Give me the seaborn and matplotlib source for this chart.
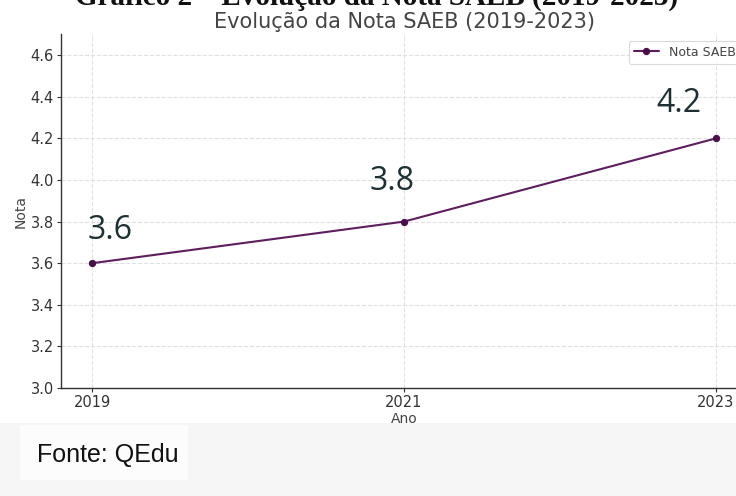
import matplotlib
matplotlib.use("Agg")
import matplotlib.pyplot as plt
import matplotlib.patches as mpatches
import seaborn as sns
import pandas as pd

anos = [2019, 2021, 2023]
notas = [3.6, 3.8, 4.2]
rotulos = ["3.6", "3.8", "4.2"]
yticks = [3.0, 3.2, 3.4, 3.6, 3.8, 4.0, 4.2, 4.4, 4.6]

df = pd.DataFrame({"Ano": anos, "Nota": notas})

sns.set_theme(style="whitegrid")
plt.rcParams["font.family"] = ["DejaVu Sans"]

W, H = 736, 496
fig = plt.figure(figsize=(W / 100, H / 100), dpi=100)
fig.patch.set_facecolor("white")

# bottom grey band + white box behind the source text
fig.patches.append(mpatches.Rectangle((0, 0), 1, 73 / H, transform=fig.transFigure,
                                      facecolor="#f6f6f6", edgecolor="none", zorder=0))
fig.patches.append(mpatches.Rectangle((20 / W, 16 / H), 168 / W, 55 / H, transform=fig.transFigure,
                                      facecolor="#fcfcfc", edgecolor="none", zorder=0))

left, right_px, top_px, bottom_px = 61, 747, 34.4, 388
ax = fig.add_axes([left / W, 1 - bottom_px / H, (right_px - left) / W, (bottom_px - top_px) / H])

line_color = "#5e1d5e"
sns.lineplot(data=df, x="Ano", y="Nota", ax=ax, color=line_color, marker="o",
             markersize=4.5, linewidth=1.5, markeredgecolor="#4a0f4a",
             markerfacecolor="#4a0f4a", label="Nota SAEB")

ax.set_xlim(2018.8, 2023.2)
ax.set_ylim(3.0, 4.7)
ax.set_xticks(anos)
ax.set_xticklabels([str(a) for a in anos])
ax.set_yticks(yticks)
ax.set_yticklabels([f"{v:.1f}" for v in yticks])
ax.tick_params(axis="both", labelsize=10.5, colors="#333333", length=3, width=0.8,
               direction="out", bottom=True, left=True, pad=2)
ax.grid(True, color="#e0e0e0", linestyle="--", linewidth=0.8)
ax.set_facecolor("white")
for s in ["top", "right"]:
    ax.spines[s].set_visible(False)
for s in ["left", "bottom"]:
    ax.spines[s].set_color("#333333")
    ax.spines[s].set_linewidth(1.0)
ax.set_xlabel("Ano", fontsize=10, color="#444444", labelpad=1.5)
ax.set_ylabel("Nota", fontsize=10, color="#444444", labelpad=2)

offsets = [(18, 16), (-12, 24), (-37, 18)]
for x, y, t, (dx, dy) in zip(anos, notas, rotulos, offsets):
    ax.annotate(t, xy=(x, y), xytext=(dx, dy), textcoords="offset pixels",
                ha="center", va="bottom", fontsize=23, fontweight="medium",
                color="#1d3034", family=["Open Sans", "DejaVu Sans"])

leg = ax.legend(loc="upper right", fontsize=9, frameon=True, handlelength=2,
                borderpad=0.4)
leg.get_frame().set_edgecolor("#d0d0d0")
leg.get_frame().set_linewidth(0.8)
for t in leg.get_texts():
    t.set_color("#444444")

fig.text(404 / W, 1 - 28 / H, "Evolução da Nota SAEB (2019-2023)", ha="center", va="baseline",
         fontsize=15, color="#444444")
fig.text(377 / W, 1 - 5 / H, "Gráfico 2 – Evolução da Nota SAEB (2019-2023)", ha="center",
         va="baseline", fontsize=21, fontweight="bold", color="#111111",
         family=["Liberation Serif", "DejaVu Serif"])
fig.text(37 / W, 1 - 462 / H, "Fonte: QEdu", ha="left", va="baseline", fontsize=18,
         color="#111111", family=["Liberation Sans", "DejaVu Sans"])

fig.savefig("out.png", dpi=100)
